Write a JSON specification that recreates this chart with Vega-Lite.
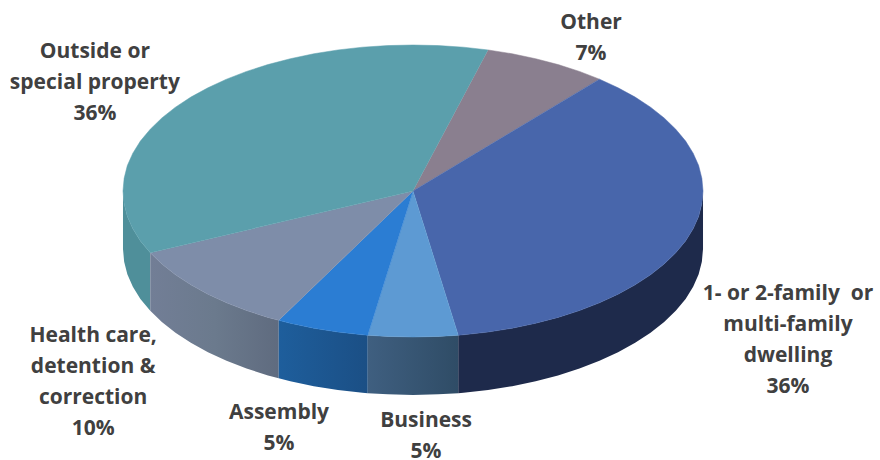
{"$schema":"https://vega.github.io/schema/vega-lite/v6.json","width":880,"height":460,"padding":0,"autosize":{"type":"none"},"background":"white","config":{"view":{"stroke":null}},
"datasets":{
"walls":[
{"s":"Outside","x":-1,"y":0,"y2":-0.397},{"s":"Outside","x":-0.996,"y":-0.087,"y2":-0.484},{"s":"Outside","x":-0.985,"y":-0.174,"y2":-0.571},{"s":"Outside","x":-0.966,"y":-0.259,"y2":-0.656},{"s":"Outside","x":-0.94,"y":-0.342,"y2":-0.739},{"s":"Outside","x":-0.906,"y":-0.423,"y2":-0.82},
{"s":"Health","x":-0.906,"y":-0.423,"y2":-0.82},{"s":"Health","x":-0.866,"y":-0.5,"y2":-0.897},{"s":"Health","x":-0.819,"y":-0.574,"y2":-0.971},{"s":"Health","x":-0.766,"y":-0.643,"y2":-1.04},{"s":"Health","x":-0.707,"y":-0.707,"y2":-1.104},{"s":"Health","x":-0.643,"y":-0.766,"y2":-1.163},{"s":"Health","x":-0.574,"y":-0.819,"y2":-1.216},{"s":"Health","x":-0.5,"y":-0.866,"y2":-1.263},{"s":"Health","x":-0.463,"y":-0.886,"y2":-1.283},
{"s":"Assembly","x":-0.463,"y":-0.886,"y2":-1.283},{"s":"Assembly","x":-0.423,"y":-0.906,"y2":-1.303},{"s":"Assembly","x":-0.342,"y":-0.94,"y2":-1.337},{"s":"Assembly","x":-0.259,"y":-0.966,"y2":-1.363},{"s":"Assembly","x":-0.174,"y":-0.985,"y2":-1.382},{"s":"Assembly","x":-0.156,"y":-0.988,"y2":-1.385},
{"s":"Business","x":-0.156,"y":-0.988,"y2":-1.385},{"s":"Business","x":-0.087,"y":-0.996,"y2":-1.393},{"s":"Business","x":0,"y":-1,"y2":-1.397},{"s":"Business","x":0.087,"y":-0.996,"y2":-1.393},{"s":"Business","x":0.156,"y":-0.988,"y2":-1.385},
{"s":"Dwelling","x":0.156,"y":-0.988,"y2":-1.385},{"s":"Dwelling","x":0.174,"y":-0.985,"y2":-1.382},{"s":"Dwelling","x":0.259,"y":-0.966,"y2":-1.363},{"s":"Dwelling","x":0.342,"y":-0.94,"y2":-1.337},{"s":"Dwelling","x":0.423,"y":-0.906,"y2":-1.303},{"s":"Dwelling","x":0.5,"y":-0.866,"y2":-1.263},{"s":"Dwelling","x":0.574,"y":-0.819,"y2":-1.216},{"s":"Dwelling","x":0.643,"y":-0.766,"y2":-1.163},{"s":"Dwelling","x":0.707,"y":-0.707,"y2":-1.104},{"s":"Dwelling","x":0.766,"y":-0.643,"y2":-1.04},{"s":"Dwelling","x":0.819,"y":-0.574,"y2":-0.971},{"s":"Dwelling","x":0.866,"y":-0.5,"y2":-0.897},{"s":"Dwelling","x":0.906,"y":-0.423,"y2":-0.82},{"s":"Dwelling","x":0.94,"y":-0.342,"y2":-0.739},{"s":"Dwelling","x":0.966,"y":-0.259,"y2":-0.656},{"s":"Dwelling","x":0.985,"y":-0.174,"y2":-0.571},{"s":"Dwelling","x":0.996,"y":-0.087,"y2":-0.484},{"s":"Dwelling","x":1,"y":0,"y2":-0.397}
],
"tops":[
{"s":"Other","i":0,"x":0,"y":0},{"s":"Other","i":1,"x":0.259,"y":0.966},{"s":"Other","i":2,"x":0.342,"y":0.94},{"s":"Other","i":3,"x":0.423,"y":0.906},{"s":"Other","i":4,"x":0.5,"y":0.866},{"s":"Other","i":5,"x":0.574,"y":0.819},{"s":"Other","i":6,"x":0.643,"y":0.766},
{"s":"Dwelling","i":0,"x":0,"y":0},{"s":"Dwelling","i":1,"x":0.643,"y":0.766},{"s":"Dwelling","i":2,"x":0.707,"y":0.707},{"s":"Dwelling","i":3,"x":0.766,"y":0.643},{"s":"Dwelling","i":4,"x":0.819,"y":0.574},{"s":"Dwelling","i":5,"x":0.866,"y":0.5},{"s":"Dwelling","i":6,"x":0.906,"y":0.423},{"s":"Dwelling","i":7,"x":0.94,"y":0.342},{"s":"Dwelling","i":8,"x":0.966,"y":0.259},{"s":"Dwelling","i":9,"x":0.985,"y":0.174},{"s":"Dwelling","i":10,"x":0.996,"y":0.087},{"s":"Dwelling","i":11,"x":1,"y":0},{"s":"Dwelling","i":12,"x":0.996,"y":-0.087},{"s":"Dwelling","i":13,"x":0.985,"y":-0.174},{"s":"Dwelling","i":14,"x":0.966,"y":-0.259},{"s":"Dwelling","i":15,"x":0.94,"y":-0.342},{"s":"Dwelling","i":16,"x":0.906,"y":-0.423},{"s":"Dwelling","i":17,"x":0.866,"y":-0.5},{"s":"Dwelling","i":18,"x":0.819,"y":-0.574},{"s":"Dwelling","i":19,"x":0.766,"y":-0.643},{"s":"Dwelling","i":20,"x":0.707,"y":-0.707},{"s":"Dwelling","i":21,"x":0.643,"y":-0.766},{"s":"Dwelling","i":22,"x":0.574,"y":-0.819},{"s":"Dwelling","i":23,"x":0.5,"y":-0.866},{"s":"Dwelling","i":24,"x":0.423,"y":-0.906},{"s":"Dwelling","i":25,"x":0.342,"y":-0.94},{"s":"Dwelling","i":26,"x":0.259,"y":-0.966},{"s":"Dwelling","i":27,"x":0.174,"y":-0.985},{"s":"Dwelling","i":28,"x":0.156,"y":-0.988},
{"s":"Business","i":0,"x":0,"y":0},{"s":"Business","i":1,"x":0.156,"y":-0.988},{"s":"Business","i":2,"x":0.087,"y":-0.996},{"s":"Business","i":3,"x":0,"y":-1},{"s":"Business","i":4,"x":-0.087,"y":-0.996},{"s":"Business","i":5,"x":-0.156,"y":-0.988},
{"s":"Assembly","i":0,"x":0,"y":0},{"s":"Assembly","i":1,"x":-0.156,"y":-0.988},{"s":"Assembly","i":2,"x":-0.174,"y":-0.985},{"s":"Assembly","i":3,"x":-0.259,"y":-0.966},{"s":"Assembly","i":4,"x":-0.342,"y":-0.94},{"s":"Assembly","i":5,"x":-0.423,"y":-0.906},{"s":"Assembly","i":6,"x":-0.463,"y":-0.886},
{"s":"Health","i":0,"x":0,"y":0},{"s":"Health","i":1,"x":-0.463,"y":-0.886},{"s":"Health","i":2,"x":-0.5,"y":-0.866},{"s":"Health","i":3,"x":-0.574,"y":-0.819},{"s":"Health","i":4,"x":-0.643,"y":-0.766},{"s":"Health","i":5,"x":-0.707,"y":-0.707},{"s":"Health","i":6,"x":-0.766,"y":-0.643},{"s":"Health","i":7,"x":-0.819,"y":-0.574},{"s":"Health","i":8,"x":-0.866,"y":-0.5},{"s":"Health","i":9,"x":-0.906,"y":-0.423},
{"s":"Outside","i":0,"x":0,"y":0},{"s":"Outside","i":1,"x":-0.906,"y":-0.423},{"s":"Outside","i":2,"x":-0.94,"y":-0.342},{"s":"Outside","i":3,"x":-0.966,"y":-0.259},{"s":"Outside","i":4,"x":-0.985,"y":-0.174},{"s":"Outside","i":5,"x":-0.996,"y":-0.087},{"s":"Outside","i":6,"x":-1,"y":0},{"s":"Outside","i":7,"x":-0.996,"y":0.087},{"s":"Outside","i":8,"x":-0.985,"y":0.174},{"s":"Outside","i":9,"x":-0.966,"y":0.259},{"s":"Outside","i":10,"x":-0.94,"y":0.342},{"s":"Outside","i":11,"x":-0.906,"y":0.423},{"s":"Outside","i":12,"x":-0.866,"y":0.5},{"s":"Outside","i":13,"x":-0.819,"y":0.574},{"s":"Outside","i":14,"x":-0.766,"y":0.643},{"s":"Outside","i":15,"x":-0.707,"y":0.707},{"s":"Outside","i":16,"x":-0.643,"y":0.766},{"s":"Outside","i":17,"x":-0.574,"y":0.819},{"s":"Outside","i":18,"x":-0.5,"y":0.866},{"s":"Outside","i":19,"x":-0.423,"y":0.906},{"s":"Outside","i":20,"x":-0.342,"y":0.94},{"s":"Outside","i":21,"x":-0.259,"y":0.966},{"s":"Outside","i":22,"x":-0.174,"y":0.985},{"s":"Outside","i":23,"x":-0.087,"y":0.996},{"s":"Outside","i":24,"x":0,"y":1},{"s":"Outside","i":25,"x":0.087,"y":0.996},{"s":"Outside","i":26,"x":0.174,"y":0.985},{"s":"Outside","i":27,"x":0.259,"y":0.966}
],
"labels":[
{"label":"Other\n7%","x":0.614,"y":1.15},
{"label":"Outside or\nspecial property\n36%","x":-1.097,"y":0.952},
{"label":"1- or 2-family \u00a0or\nmulti-family\ndwelling\n36%","x":1.293,"y":-0.706},
{"label":"Health care,\ndetention &\ncorrection\n10%","x":-1.103,"y":-0.993},
{"label":"Assembly\n5%","x":-0.462,"y":-1.521},
{"label":"Business\n5%","x":0.045,"y":-1.576}
]},
"encoding":{
"x":{"field":"x","type":"quantitative","axis":null,"scale":{"domain":[-1.4241,1.6103],"nice":false,"zero":false}},
"y":{"field":"y","type":"quantitative","axis":null,"scale":{"domain":[-1.8425,1.3082],"nice":false,"zero":false}}},
"layer":[
{"data":{"name":"walls"},"transform":[{"filter":"datum.s==='Outside'"}],"mark":{"type":"area","color":"#4F8F9A"},"encoding":{"y2":{"field":"y2"}}},
{"data":{"name":"walls"},"transform":[{"filter":"datum.s==='Health'"}],"mark":{"type":"area","color":{"gradient":"linear","x1":0,"x2":1,"y1":0,"y2":0,"stops":[{"offset":0,"color":"#727E96"},{"offset":0.5,"color":"#6B7A8D"},{"offset":1,"color":"#5F6B7F"}]}},"encoding":{"y2":{"field":"y2"}}},
{"data":{"name":"walls"},"transform":[{"filter":"datum.s==='Assembly'"}],"mark":{"type":"area","color":{"gradient":"linear","x1":0,"x2":1,"y1":0,"y2":0,"stops":[{"offset":0,"color":"#1E5E9C"},{"offset":1,"color":"#1B4F85"}]}},"encoding":{"y2":{"field":"y2"}}},
{"data":{"name":"walls"},"transform":[{"filter":"datum.s==='Business'"}],"mark":{"type":"area","color":{"gradient":"linear","x1":0,"x2":1,"y1":0,"y2":0,"stops":[{"offset":0,"color":"#3F5F80"},{"offset":1,"color":"#2F4C66"}]}},"encoding":{"y2":{"field":"y2"}}},
{"data":{"name":"walls"},"transform":[{"filter":"datum.s==='Dwelling'"}],"mark":{"type":"area","color":"#1E2A4B"},"encoding":{"y2":{"field":"y2"}}},
{"data":{"name":"tops"},"mark":{"type":"line","strokeWidth":0.5,"strokeJoin":"round"},"encoding":{"order":{"field":"i","type":"quantitative"},
"fill":{"field":"s","type":"nominal","legend":null,"scale":{"domain":["Other","Dwelling","Business","Assembly","Health","Outside"],"range":["#8A7F8F","#4866AB","#5D9AD3","#2B7DD3","#7E8DA9","#5B9FAC"]}},
"stroke":{"field":"s","type":"nominal","legend":null,"scale":{"domain":["Other","Dwelling","Business","Assembly","Health","Outside"],"range":["#8A7F8F","#4866AB","#5D9AD3","#2B7DD3","#7E8DA9","#5B9FAC"]}}}},
{"data":{"name":"labels"},"mark":{"type":"text","lineBreak":"\n","lineHeight":31,"font":"Open Sans","fontWeight":"bold","fontSize":21,"color":"#404040","align":"center","baseline":"middle"},"encoding":{"text":{"field":"label","type":"nominal"}}}
]}
